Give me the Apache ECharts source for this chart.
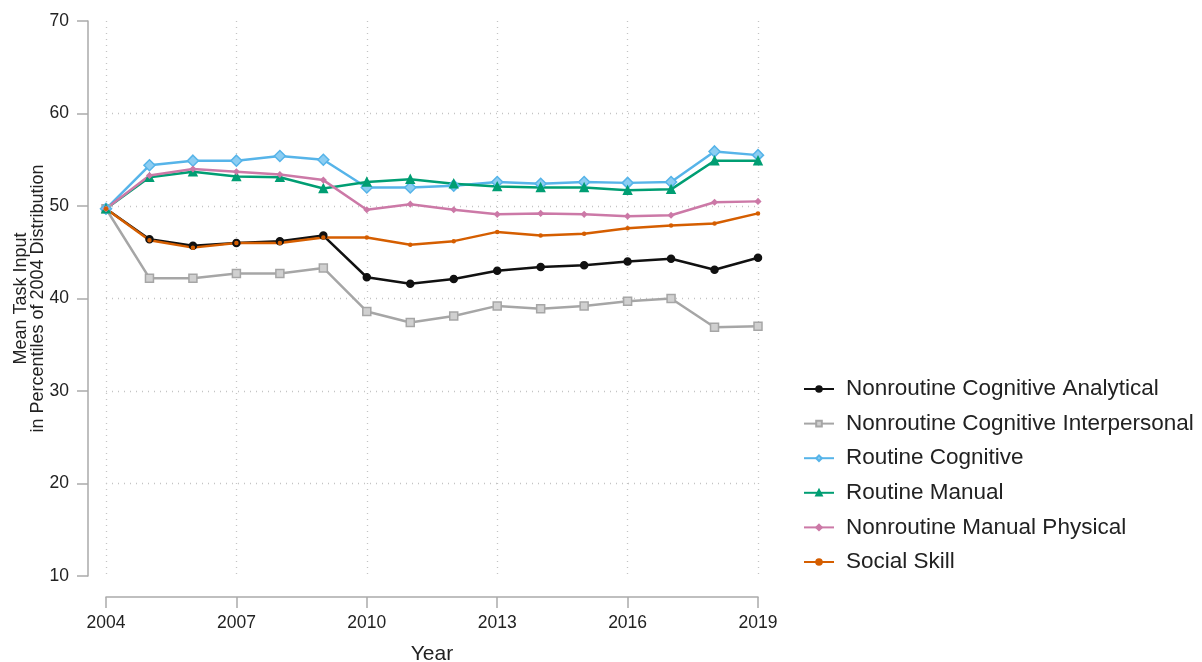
<!DOCTYPE html>
<html lang="en">
<head>
    <meta charset="UTF-8">
    <title>Mean Task Input</title>
    <style>
        html, body { margin: 0; padding: 0; background: #fff; }
        #main { width: 1202px; height: 662px; }
    </style>
</head>
<body>
<div id="main"></div>
<script src="https://cdn.jsdelivr.net/npm/echarts@6/dist/echarts.min.js"></script>
<script>
    var years = [2004, 2005, 2006, 2007, 2008, 2009, 2010, 2011, 2012, 2013, 2014, 2015, 2016, 2017, 2018, 2019];

    var analytical    = [49.7, 46.4, 45.7, 46.0, 46.2, 46.8, 42.3, 41.6, 42.1, 43.0, 43.4, 43.6, 44.0, 44.3, 43.1, 44.4];
    var interpersonal = [49.7, 42.2, 42.2, 42.7, 42.7, 43.3, 38.6, 37.4, 38.1, 39.2, 38.9, 39.2, 39.7, 40.0, 36.9, 37.0];
    var routineCog    = [49.7, 54.4, 54.9, 54.9, 55.4, 55.0, 52.0, 52.0, 52.2, 52.6, 52.4, 52.6, 52.5, 52.6, 55.9, 55.5];
    var routineMan    = [49.7, 53.1, 53.7, 53.2, 53.1, 51.9, 52.6, 52.9, 52.4, 52.1, 52.0, 52.0, 51.7, 51.8, 54.9, 54.9];
    var manualPhys    = [49.7, 53.3, 54.0, 53.7, 53.4, 52.8, 49.6, 50.2, 49.6, 49.1, 49.2, 49.1, 48.9, 49.0, 50.4, 50.5];
    var socialSkill   = [49.7, 46.3, 45.5, 46.0, 46.0, 46.6, 46.6, 45.8, 46.2, 47.2, 46.8, 47.0, 47.6, 47.9, 48.1, 49.2];

    var names = [
        'Nonroutine Cognitive Analytical',
        'Nonroutine Cognitive Interpersonal',
        'Routine Cognitive',
        'Routine Manual',
        'Nonroutine Manual Physical',
        'Social Skill'
    ];

    function pairs(vals) {
        return years.map(function (y, i) { return [y, vals[i]]; });
    }

    var font = 'Arial, "Liberation Sans", sans-serif';
    var axisGray = '#aaaaaa';
    var gridStyle = { color: '#c4c4c4', type: [1, 5], width: 1.3 };

    function line(name, vals, color, symbol, size, fill, border) {
        return {
            name: name,
            type: 'line',
            data: pairs(vals),
            symbol: symbol,
            symbolSize: size,
            lineStyle: { color: color, width: 2.5 },
            itemStyle: { color: fill || color, borderColor: border || color, borderWidth: 1.5 },
            emphasis: { disabled: true }
        };
    }

    var chart = echarts.init(document.getElementById('main'));
    var option = {
        animation: false,
        textStyle: { fontFamily: font },
        grid: { left: 106, right: 444, top: 21, bottom: 86, outerBoundsMode: 'none', containLabel: false },
        legend: {
            orient: 'vertical',
            left: 798,
            top: 372,
            itemWidth: 30,
            itemHeight: 7,
            itemGap: 10.6,
            textStyle: { fontSize: 22.5, color: '#222', fontFamily: font, lineHeight: 24, padding: [0, 0, 0, 7] },
            data: names
        },
        xAxis: {
            type: 'value',
            min: 2004,
            max: 2019,
            interval: 3,
            offset: 21,
            name: 'Year',
            nameLocation: 'middle',
            nameGap: 47,
            nameMoveOverlap: false,
            nameTextStyle: { fontSize: 21, color: '#222' },
            axisLine: { show: true, lineStyle: { color: axisGray, width: 1.5 } },
            axisTick: { show: true, length: 11, lineStyle: { color: axisGray, width: 1.5 } },
            axisLabel: { fontSize: 17.5, color: '#222', margin: 17, formatter: function (v) { return String(v); } },
            splitLine: { show: true, lineStyle: gridStyle }
        },
        yAxis: {
            type: 'value',
            min: 10,
            max: 70,
            interval: 10,
            offset: 18,
            name: 'Mean Task Input\nin Percentiles of 2004 Distribution',
            nameLocation: 'middle',
            nameGap: 41,
            nameMoveOverlap: false,
            nameTextStyle: { fontSize: 18, color: '#222', lineHeight: 17 },
            axisLine: { show: true, lineStyle: { color: axisGray, width: 1.5 } },
            axisTick: { show: true, length: 11, lineStyle: { color: axisGray, width: 1.5 } },
            axisLabel: { fontSize: 17.5, color: '#222', margin: 19 },
            splitLine: { show: true, showMinLine: false, showMaxLine: false, lineStyle: gridStyle }
        },
        series: [
            line(names[0], analytical, '#111111', 'circle', 7),
            line(names[1], interpersonal, '#a6a6a6', 'rect', 8, '#d0d0d0', '#a6a6a6'),
            line(names[2], routineCog, '#56b4e9', 'diamond', 11, '#8ccdf2', '#56b4e9'),
            line(names[3], routineMan, '#009e73', 'triangle', 8),
            line(names[4], manualPhys, '#cc79a7', 'diamond', 5),
            line(names[5], socialSkill, '#d55e00', 'circle', 3)
        ]
    };
    chart.setOption(option);
</script>
</body>
</html>
